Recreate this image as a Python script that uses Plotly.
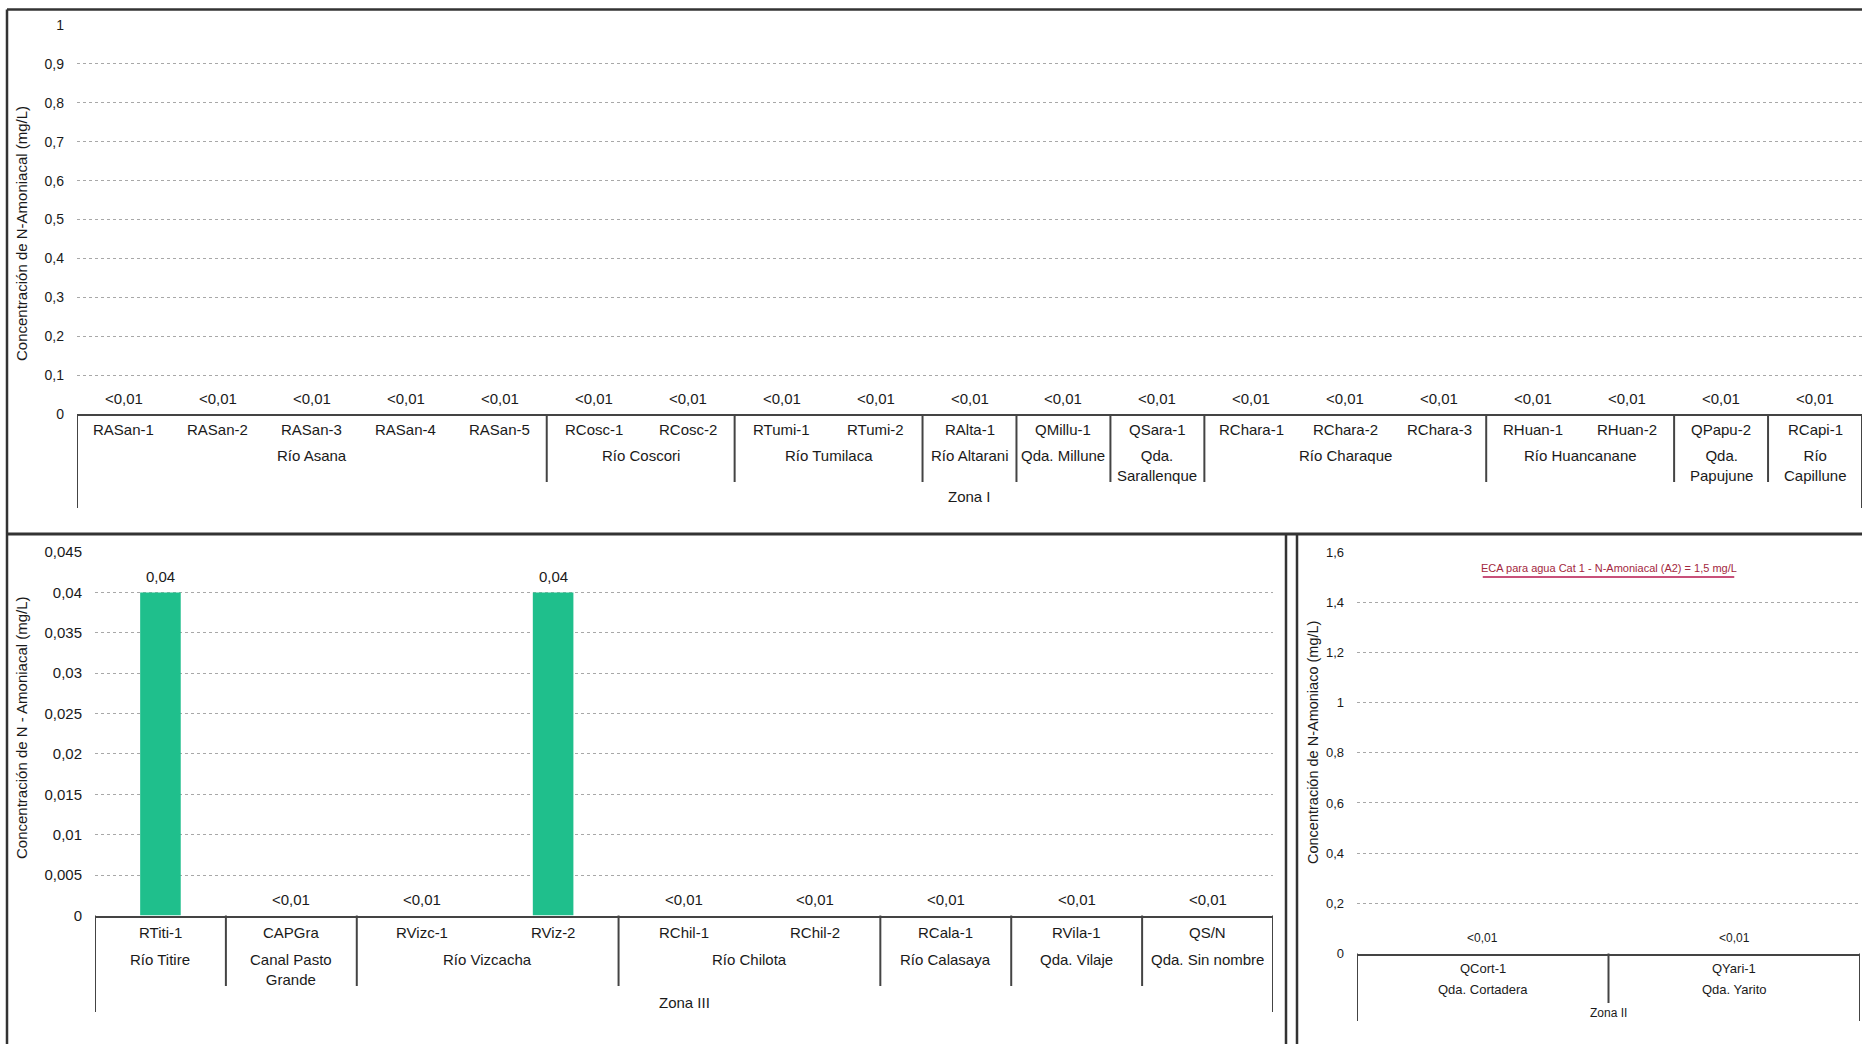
import plotly.graph_objects as go

W, H = 1862, 1044

# ---------------- DATA ----------------
# Zona I
z1_stations = ["RASan-1", "RASan-2", "RASan-3", "RASan-4", "RASan-5",
               "RCosc-1", "RCosc-2", "RTumi-1", "RTumi-2", "RAlta-1",
               "QMillu-1", "QSara-1", "RChara-1", "RChara-2", "RChara-3",
               "RHuan-1", "RHuan-2", "QPapu-2", "RCapi-1"]
z1_values = [0, 0, 0, 0, 0, 0, 0, 0, 0, 0, 0, 0, 0, 0, 0, 0, 0, 0, 0]
z1_labels = ["<0,01", "<0,01", "<0,01", "<0,01", "<0,01", "<0,01", "<0,01",
             "<0,01", "<0,01", "<0,01", "<0,01", "<0,01", "<0,01", "<0,01",
             "<0,01", "<0,01", "<0,01", "<0,01", "<0,01"]
z1_groups = ["Río Asana", "Río Coscori", "Río Tumilaca", "Río Altarani",
             "Qda. Millune", "Qda.<br>Sarallenque", "Río Charaque",
             "Río Huancanane", "Qda.<br>Papujune", "Río<br>Capillune"]
z1_group_sizes = [5, 2, 2, 1, 1, 1, 3, 2, 1, 1]
z1_zone = "Zona I"
z1_yticks = [0, 0.1, 0.2, 0.3, 0.4, 0.5, 0.6, 0.7, 0.8, 0.9, 1]
z1_yticktext = ["0", "0,1", "0,2", "0,3", "0,4", "0,5", "0,6", "0,7", "0,8", "0,9", "1"]
z1_ytitle = "Concentración de N-Amoniacal (mg/L)"

# Zona III
z3_stations = ["RTiti-1", "CAPGra", "RVizc-1", "RViz-2", "RChil-1",
               "RChil-2", "RCala-1", "RVila-1", "QS/N"]
z3_values = [0.04, 0, 0, 0.04, 0, 0, 0, 0, 0]
z3_labels = ["0,04", "<0,01", "<0,01", "0,04", "<0,01", "<0,01", "<0,01", "<0,01", "<0,01"]
z3_groups = ["Río Titire", "Canal Pasto<br>Grande", "Río Vizcacha", "Río Chilota",
             "Río Calasaya", "Qda. Vilaje", "Qda. Sin nombre"]
z3_group_sizes = [1, 1, 2, 2, 1, 1, 1]
z3_zone = "Zona III"
z3_yticks = [0, 0.005, 0.01, 0.015, 0.02, 0.025, 0.03, 0.035, 0.04, 0.045]
z3_yticktext = ["0", "0,005", "0,01", "0,015", "0,02", "0,025", "0,03", "0,035", "0,04", "0,045"]
z3_ytitle = "Concentración de N - Amoniacal (mg/L)"

# Zona II
z2_stations = ["QCort-1", "QYari-1"]
z2_values = [0, 0]
z2_labels = ["<0,01", "<0,01"]
z2_groups = ["Qda. Cortadera", "Qda. Yarito"]
z2_group_sizes = [1, 1]
z2_zone = "Zona II"
z2_yticks = [0, 0.2, 0.4, 0.6, 0.8, 1, 1.2, 1.4, 1.6]
z2_yticktext = ["0", "0,2", "0,4", "0,6", "0,8", "1", "1,2", "1,4", "1,6"]
z2_ytitle = "Concentración de N-Amoniaco (mg/L)"
eca_value = 1.5
eca_text = "ECA para agua Cat 1 - N-Amoniacal (A2) = 1,5 mg/L"

# ---------------- STYLE ----------------
FONT = "Liberation Sans, Arial, sans-serif"
NARROW = "Liberation Sans Narrow, Arial Narrow, Liberation Sans, sans-serif"
TXT = "#1a1a1a"
LINE = "#444444"
GRID = "#a8a8a8"
BAR = "#1fbf8c"


def px(x):
    return x / W


def py(y):
    return 1 - y / H


# panel geometry (pixels)
panels = {
    "z1": dict(x0=77, x1=1862, top=25, bottom=414, sta_y=430, grp_y=445, zone_y=496,
               sep_end=482, out_end=508, font=FONT, fs=15, tfs=14, tfont=FONT,
               xa="x", ya="y"),
    "z3": dict(x0=95, x1=1273, top=552, bottom=915.5, sta_y=932, grp_y=949, zone_y=1002,
               sep_end=986, out_end=1012, font=FONT, fs=15, tfs=15, tfont=FONT,
               xa="x2", ya="y2"),
    "z2": dict(x0=1357, x1=1860, top=552, bottom=953.5, sta_y=968, grp_y=980, zone_y=1013,
               sep_end=1003, out_end=1021, font=NARROW, fs=13, tfs=13, tfont=FONT,
               xa="x3", ya="y3"),
}

data = {
    "z1": (z1_stations, z1_values, z1_labels, z1_groups, z1_group_sizes, z1_zone,
           z1_yticks, z1_yticktext, 1.0),
    "z3": (z3_stations, z3_values, z3_labels, z3_groups, z3_group_sizes, z3_zone,
           z3_yticks, z3_yticktext, 0.045),
    "z2": (z2_stations, z2_values, z2_labels, z2_groups, z2_group_sizes, z2_zone,
           z2_yticks, z2_yticktext, 1.6),
}

fig = go.Figure()
annotations = []
shapes = []
layout_axes = {}

for key in ["z1", "z3", "z2"]:
    p = panels[key]
    stations, values, labels, groups, sizes, zone, yt, ytt, ymax = data[key]
    n = len(stations)
    fig.add_trace(go.Bar(
        x=stations, y=values,
        marker=dict(color=BAR, line=dict(width=0)), width=0.31,
        xaxis=p["xa"], yaxis=p["ya"], showlegend=False, hoverinfo="skip"))

    # value labels above bars
    for s, v, lab in zip(stations, values, labels):
        annotations.append(dict(
            x=s, xref=p["xa"], y=v, yref=p["ya"], text=lab, showarrow=False,
            yanchor="middle", xanchor="center", yshift=16,
            font=dict(family=p["font"], size=p["fs"] if key != "z2" else 12, color=TXT)))

    xname = "xaxis" + p["xa"][1:]
    yname = "yaxis" + p["ya"][1:]
    layout_axes[xname] = dict(
        domain=[px(p["x0"]), px(p["x1"])], anchor=p["ya"], type="category",
        range=[-0.5, n - 0.5], showticklabels=False, ticks="", showgrid=False,
        zeroline=False, showline=True, linecolor=LINE, linewidth=2, fixedrange=True,
        automargin=False)
    layout_axes[yname] = dict(
        domain=[py(p["bottom"]), py(p["top"])], anchor=p["xa"], range=[0, ymax],
        tickvals=yt, ticktext=ytt, showgrid=True, gridcolor=GRID, griddash="dot",
        gridwidth=1, zeroline=False, showline=False, ticks="",
        ticklabelstandoff=12, automargin=False,
        tickfont=dict(family=p["tfont"], size=p["tfs"], color=TXT), fixedrange=True)

    # station labels
    for s in stations:
        annotations.append(dict(
            x=s, xref=p["xa"], y=py(p["sta_y"]), yref="paper", text=s,
            showarrow=False, yanchor="middle", xanchor="center",
            font=dict(family=p["font"], size=p["fs"], color=TXT)))

    # group labels and separators
    start = 0
    for g, sz in zip(groups, sizes):
        center = start + (sz - 1) / 2
        annotations.append(dict(
            x=center, xref=p["xa"], y=py(p["grp_y"]), yref="paper", text=g,
            showarrow=False, yanchor="top", xanchor="center", align="center",
            font=dict(family=p["font"], size=p["fs"], color=TXT)))
        start += sz
        if start < n:
            shapes.append(dict(type="line", xref=p["xa"], yref="paper",
                               x0=start - 0.5, x1=start - 0.5,
                               y0=py(p["bottom"]), y1=py(p["sep_end"]),
                               line=dict(color=LINE, width=2)))
    for edge in [-0.5, n - 0.5]:
        shapes.append(dict(type="line", xref=p["xa"], yref="paper",
                           x0=edge, x1=edge, y0=py(p["bottom"]), y1=py(p["out_end"]),
                           line=dict(color=LINE, width=2)))
    # zone label
    annotations.append(dict(
        x=(n - 1) / 2, xref=p["xa"], y=py(p["zone_y"]), yref="paper", text=zone,
        showarrow=False, yanchor="middle", xanchor="center",
        font=dict(family=p["font"], size=p["fs"] if key != "z2" else 12, color=TXT)))

# ECA line (Zona II)
fig.add_trace(go.Scatter(
    x=z2_stations, y=[eca_value] * len(z2_stations), mode="lines",
    line=dict(color="#c8507a", width=2), xaxis="x3", yaxis="y3",
    showlegend=False, hoverinfo="skip"))
annotations.append(dict(
    x=(len(z2_stations) - 1) / 2, xref="x3", y=eca_value, yref="y3", text=eca_text,
    showarrow=False, yanchor="bottom", xanchor="center", yshift=1,
    font=dict(family=NARROW, size=11, color="#a3283e")))

# y-axis titles
for title, xc, yc, fs, fam in [(z1_ytitle, 21, 234, 15, FONT),
                                (z3_ytitle, 21, 728, 15, FONT),
                                (z2_ytitle, 1313, 743, 14.5, FONT)]:
    annotations.append(dict(
        x=px(xc), y=py(yc), xref="paper", yref="paper", text=title, textangle=-90,
        showarrow=False, xanchor="center", yanchor="middle",
        font=dict(family=fam, size=fs, color=TXT)))

# panel borders
BORDER = "#333333"
for (x0, y0, x1, y1, w) in [(7, 9.5, 1862, 9.5, 2.5),
                            (7, 9.5, 7, 534, 2.5),
                            (7, 534, 1862, 534, 3),
                            (7, 534, 7, 1044, 2.5),
                            (1286, 534, 1286, 1044, 2.5),
                            (1297, 534, 1297, 1044, 2.5)]:
    shapes.append(dict(type="line", xref="paper", yref="paper",
                       x0=px(x0), x1=px(x1), y0=py(y0), y1=py(y1),
                       line=dict(color=BORDER, width=w)))

fig.update_layout(
    width=W, height=H, margin=dict(l=0, r=0, t=0, b=0, autoexpand=False),
    paper_bgcolor="white", plot_bgcolor="white",
    separators=",.", bargap=0.2, showlegend=False,
    font=dict(family=FONT, color=TXT),
    annotations=annotations, shapes=shapes, **layout_axes)

fig.write_html("out.html")
